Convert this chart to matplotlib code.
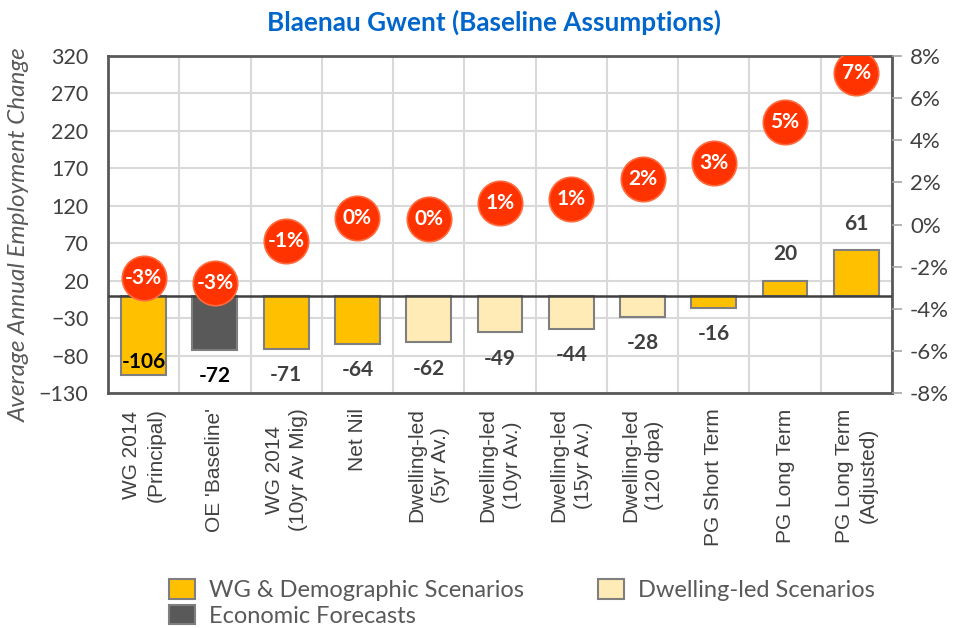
import numpy as np
import matplotlib
matplotlib.use("Agg")
import matplotlib.pyplot as plt
from matplotlib.patches import Patch

# data
categories = ["WG 2014\n(Principal)", "OE 'Baseline'", "WG 2014\n(10yr Av Mig)", "Net Nil",
              "Dwelling-led\n(5yr Av.)", "Dwelling-led\n(10yr Av.)", "Dwelling-led\n(15yr Av.)",
              "Dwelling-led\n(120 dpa)", "PG Short Term", "PG Long Term", "PG Long Term\n(Adjusted)"]
employment = [-106, -72, -71, -64, -62, -49, -44, -28, -16, 20, 61]
groups = ["demo", "econ", "demo", "demo", "dwell", "dwell", "dwell", "dwell", "demo", "demo", "demo"]
pct_change = [-2.54, -2.78, -0.78, 0.31, 0.26, 1.02, 1.21, 2.16, 2.92, 4.87, 7.2]

group_colors = {"demo": "#FFC000", "dwell": "#FFEBB5", "econ": "#595959"}
group_names = {"demo": "WG & Demographic Scenarios", "dwell": "Dwelling-led Scenarios",
               "econ": "Economic Forecasts"}

plt.rcParams["font.family"] = ["Lato", "DejaVu Sans"]

fig = plt.figure(figsize=(9.56, 6.28), dpi=100)
ax = fig.add_axes([0.113, 0.374, 0.82, 0.537])
x = np.arange(len(categories))

ax.bar(x, employment, width=0.63, color=[group_colors[g] for g in groups],
       edgecolor="#7F7F7F", linewidth=1.5, zorder=3)
ax.axhline(0, color="#404040", lw=1.8, zorder=4)

ax.set_xlim(-0.5, len(categories) - 0.5)
ax.set_ylim(-130, 320)
ax.set_yticks(np.arange(-130, 321, 50))
ax.set_xticks(x)
ax.set_xticklabels(categories, rotation=90, fontsize=15, color="#404040",
                   family="Liberation Sans", linespacing=1.35, va="top")
ax.set_xticks(np.arange(-0.5, len(categories), 1), minor=True)
ax.grid(True, which="minor", axis="x", color="#D9D9D9", lw=1.5, zorder=0)
ax.grid(True, which="major", axis="y", color="#D9D9D9", lw=1.5, zorder=0)
ax.tick_params(axis="x", which="both", length=0, pad=11)
ax.tick_params(axis="y", length=0, labelsize=15.5, labelcolor="#404040", pad=14)
for s in ax.spines.values():
    s.set_color("#595959")
    s.set_linewidth(2)
ax.set_ylabel("Average Annual Employment Change", fontsize=17.5, style="italic",
              color="#595959")
ax.yaxis.set_label_coords(-0.1, 0.47)

# value labels
for xi, v in zip(x, employment):
    col = "black" if v in (-106, -72) else "#404040"
    if v >= 0:
        off = 19
    elif v - 40 < -130:
        off = 9.5
    else:
        off = -19
    ax.annotate(str(v), (xi, v), xytext=(0, off), textcoords="offset points",
                ha="center", va="center", fontsize=15, fontweight="bold", color=col, zorder=6)

# percentage markers on secondary axis
ax2 = ax.twinx()
ax2.set_ylim(-8, 8)
ax2.set_yticks(np.arange(-8, 9, 2))
ax2.set_yticklabels([f"{t}%" for t in range(-8, 9, 2)])
ax2.tick_params(axis="y", length=7, width=1.2, color="#A6A6A6",
                labelsize=16, labelcolor="#404040", pad=6)
for s in ax2.spines.values():
    s.set_visible(False)
ax2.plot(x, pct_change, "o", ms=32, color="#FF3300", mec="#FF6A3D", mew=1.2,
         ls="none", zorder=5)
for xi, p in zip(x, pct_change):
    ax2.text(xi, p, f"{p:.0f}%", ha="center", va="center", color="white",
             fontsize=15, fontweight="bold", zorder=6)

fig.text(0.517, 0.965, "Blaenau Gwent (Baseline Assumptions)", ha="center", va="center",
         fontsize=18.8, fontweight="bold", color="#0066CC")

handles = [Patch(facecolor=group_colors[g], edgecolor="#7F7F7F", lw=1.5)
           for g in ["demo", "econ", "dwell"]]
labels = [group_names[g] for g in ["demo", "econ", "dwell"]]
fig.legend(handles, labels, loc="center", bbox_to_anchor=(0.546, 0.04), ncol=2,
           frameon=False, fontsize=17, labelcolor="#595959", handlelength=1.1,
           handleheight=0.9, handletextpad=0.6, columnspacing=3.1, labelspacing=0.15,
           borderpad=0)

fig.savefig("out.png", dpi=100)
